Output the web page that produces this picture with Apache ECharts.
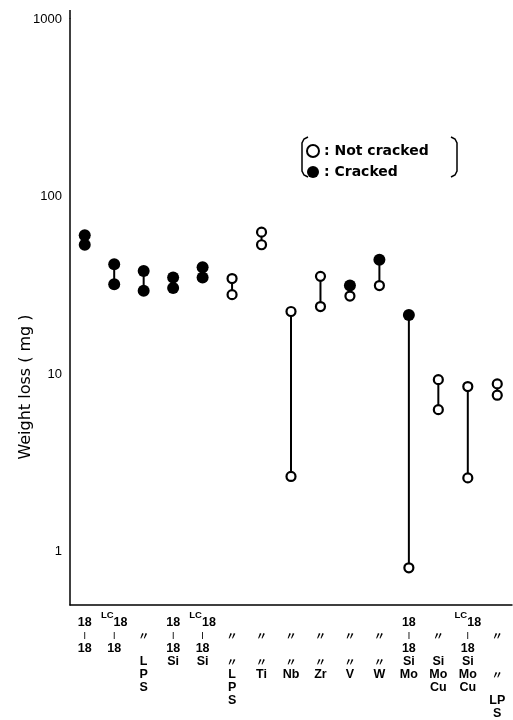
<!DOCTYPE html>
<html>
<head>
<meta charset="utf-8">
<script src="https://cdn.jsdelivr.net/npm/echarts@6/dist/echarts.min.js"></script>
<style>
  html, body { margin: 0; padding: 0; background: #fff; }
  #chart { width: 513px; height: 720px; }
</style>
</head>
<body>
<div id="chart"></div>
<script>
// steel grades, stacked labels as printed under the axis
var categories = [
  '18\n|\n18',
  'LC18\n|\n18',
  '\n〃\n\nL\nP\nS',
  '18\n|\n18\nSi',
  'LC18\n|\n18\nSi',
  '\n〃\n\n〃\nL\nP\nS',
  '\n〃\n\n〃\nTi',
  '\n〃\n\n〃\nNb',
  '\n〃\n\n〃\nZr',
  '\n〃\n\n〃\nV',
  '\n〃\n\n〃\nW',
  '18\n|\n18\nSi\nMo',
  '\n〃\n\nSi\nMo\nCu',
  'LC18\n|\n18\nSi\nMo\nCu',
  '\n〃\n\n\n〃\n\nLP\nS'
];
// weight loss (mg), upper and lower point of each grade
var upperLoss = [60.5, 41.5, 38, 35, 40, 34.5, 63, 22.5, 35.5, 31.5, 44, 21.5, 9.3, 8.5, 8.8];
var lowerLoss = [53.5, 32, 29.5, 30.5, 35, 28, 53.5, 2.65, 24, 27.5, 31.5, 0.81, 6.3, 2.6, 7.6];
// 1 = cracked (filled), 0 = not cracked (open)
var upperCracked = [1, 1, 1, 1, 1, 0, 0, 0, 0, 1, 1, 1, 0, 0, 0];
var lowerCracked = [1, 1, 1, 1, 1, 0, 0, 0, 0, 0, 0, 0, 0, 0, 0];
var yTicks = [1, 10, 100, 1000];

var rangeData = [];
var openPts = [];
var filledPts = [];
for (var i = 0; i < categories.length; i++) {
  rangeData.push([i, lowerLoss[i], upperLoss[i]]);
  (upperCracked[i] ? filledPts : openPts).push([i, upperLoss[i]]);
  (lowerCracked[i] ? filledPts : openPts).push([i, lowerLoss[i]]);
}

var chart = echarts.init(document.getElementById('chart'), null, { renderer: 'canvas' });

var option = {
  backgroundColor: '#fff',
  animation: false,
  grid: {
    left: 70,
    right: 1,
    top: 19,
    bottom: 114
  },
  legend: {
    orient: 'vertical',
    left: 306,
    top: 144,
    padding: 0,
    itemWidth: 12,
    itemHeight: 12,
    itemGap: 7,
    selectedMode: false,
    formatter: function (n) { return ': ' + n; },
    textStyle: {
      fontFamily: 'DejaVu Sans',
      fontWeight: 'bold',
      fontSize: 14,
      lineHeight: 14,
      color: '#000'
    },
    data: [
      { name: 'Not cracked', icon: 'circle', itemStyle: { color: '#fff', borderColor: '#000', borderWidth: 2 } },
      { name: 'Cracked', icon: 'circle', itemStyle: { color: '#000', borderWidth: 0 } }
    ]
  },
  xAxis: {
    type: 'category',
    data: categories,
    boundaryGap: true,
    axisLine: { lineStyle: { color: '#000', width: 1.5 } },
    axisTick: { inside: true, length: 5, alignWithLabel: true, lineStyle: { color: '#000', width: 1.2 } },
    splitLine: { show: false },
    axisLabel: {
      interval: 0,
      margin: 5,
      color: '#000',
      formatter: function (val) {
        return val.split('\n').map(function (line, row) {
          if (row === 0) {
            if (line.indexOf('LC') === 0) return '{lc|LC}{t0|' + line.slice(2) + '}';
            return '{t0|' + (line || ' ') + '}';
          }
          if (line === '|') return '{bar||}';
          if (line === '〃') return '{dt|〃}';
          return '{t|' + (line || ' ') + '}';
        }).join('\n');
      },
      rich: {
        t0: { fontFamily: 'Liberation Sans', fontWeight: 'bold', fontSize: 12.5, lineHeight: 19, verticalAlign: 'bottom', color: '#000' },
        t: { fontFamily: 'Liberation Sans', fontWeight: 'bold', fontSize: 12.5, lineHeight: 13, color: '#000' },
        bar: { fontFamily: 'Liberation Sans', fontWeight: 'bold', fontSize: 7, lineHeight: 13, color: '#000' },
        dt: { fontFamily: 'Noto Sans CJK JP', fontWeight: 'bold', fontSize: 11, lineHeight: 13, color: '#000' },
        lc: { fontFamily: 'Liberation Sans', fontWeight: 'bold', fontSize: 9.5, lineHeight: 19, verticalAlign: 'top', color: '#000' }
      }
    }
  },
  yAxis: {
    type: 'log',
    logBase: 10,
    min: 0.5,
    max: 1000,
    axisLine: { show: true, lineStyle: { color: '#000', width: 1.5 } },
    axisTick: { inside: true, length: 5, lineStyle: { color: '#000', width: 1.2 } },
    minorTick: { show: false },
    splitLine: { show: false },
    axisLabel: {
      margin: 8,
      color: '#000',
      fontFamily: 'Liberation Sans',
      fontSize: 13,
      formatter: function (v) {
        for (var k = 0; k < yTicks.length; k++) {
          if (Math.abs(v - yTicks[k]) < yTicks[k] * 1e-6) return String(yTicks[k]);
        }
        return '';
      }
    }
  },
  graphic: [
    {
      type: 'text',
      x: 26,
      y: 387,
      rotation: Math.PI / 2,
      style: {
        text: 'Weight loss ( mg )',
        fontFamily: 'DejaVu Sans',
        fontSize: 16,
        fill: '#000',
        align: 'center',
        verticalAlign: 'middle'
      }
    },
    {
      type: 'line',
      shape: { x1: 70, y1: 10, x2: 70, y2: 19 },
      style: { stroke: '#000', lineWidth: 1.5 }
    },
    {
      type: 'polyline',
      shape: { points: [[308, 137], [304, 139], [302, 143], [302, 171], [304, 175], [308, 177]] },
      style: { stroke: '#000', lineWidth: 1.5, fill: null }
    },
    {
      type: 'polyline',
      shape: { points: [[451, 137], [455, 139], [457, 143], [457, 171], [455, 175], [451, 177]] },
      style: { stroke: '#000', lineWidth: 1.5, fill: null }
    }
  ],
  series: [
    {
      type: 'custom',
      name: 'range',
      z: 1,
      data: rangeData,
      encode: { x: 0, y: [1, 2] },
      renderItem: function (params, api) {
        var p1 = api.coord([api.value(0), api.value(1)]);
        var p2 = api.coord([api.value(0), api.value(2)]);
        return {
          type: 'line',
          shape: { x1: p1[0], y1: p1[1], x2: p2[0], y2: p2[1] },
          style: { stroke: '#000', lineWidth: 2 }
        };
      }
    },
    {
      type: 'scatter',
      name: 'Not cracked',
      z: 3,
      symbol: 'circle',
      symbolSize: 9,
      itemStyle: { color: '#fff', borderColor: '#000', borderWidth: 2.2, opacity: 1 },
      data: openPts
    },
    {
      type: 'scatter',
      name: 'Cracked',
      z: 3,
      symbol: 'circle',
      symbolSize: 12,
      itemStyle: { color: '#000', opacity: 1 },
      data: filledPts
    }
  ]
};

chart.setOption(option);
</script>
</body>
</html>
